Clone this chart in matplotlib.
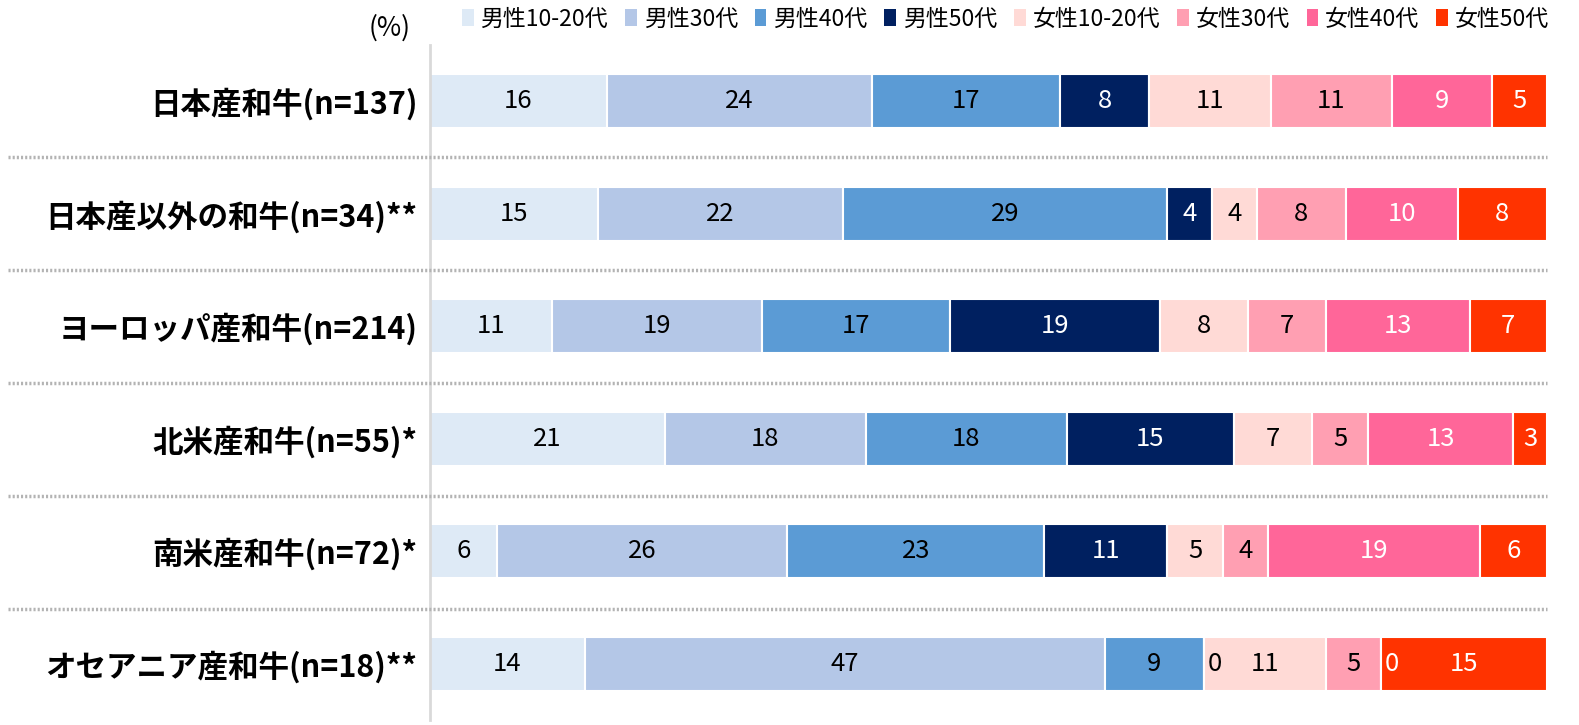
import matplotlib
matplotlib.use('Agg')
from matplotlib import pyplot as plt
from matplotlib.patches import Patch
from matplotlib.lines import Line2D
import numpy as np

plt.rcParams['font.family'] = ['Noto Sans CJK JP', 'DejaVu Sans']

# categories (top to bottom)
categories = ['日本産和牛(n=137)', '日本産以外の和牛(n=34)**', 'ヨーロッパ産和牛(n=214)',
              '北米産和牛(n=55)*', '南米産和牛(n=72)*', 'オセアニア産和牛(n=18)**']
series = ['男性10-20代', '男性30代', '男性40代', '男性50代',
          '女性10-20代', '女性30代', '女性40代', '女性50代']

# values per series, one entry per category (%)
m_10_20 = [16, 15, 11, 21, 6, 14]
m_30 = [24, 22, 19, 18, 26, 47]
m_40 = [17, 29, 17, 18, 23, 9]
m_50 = [8, 4, 19, 15, 11, 0]
f_10_20 = [11, 4, 8, 7, 5, 11]
f_30 = [11, 8, 7, 5, 4, 5]
f_40 = [9, 10, 13, 13, 19, 0]
f_50 = [5, 8, 7, 3, 6, 15]

colors = ['#DEEAF6', '#B4C7E7', '#5B9BD5', '#002060',
          '#FFDAD6', '#FF9FB2', '#FF6699', '#FF3300']
text_colors = ['black', 'black', 'black', 'white',
               'black', 'black', 'white', 'white']

data = np.array([m_10_20, m_30, m_40, m_50, f_10_20, f_30, f_40, f_50], dtype=float)
row_sum = data.sum(axis=0)
widths = data / row_sum * 100  # bars fill the full width (values are rounded)

fig = plt.figure(figsize=(15.79, 7.25), dpi=100)
ax = fig.add_axes([430/1579, 5/725, (1547-430)/1579, (720-45)/725])

y = np.arange(len(categories))
left = np.zeros(len(categories))
for i, name in enumerate(series):
    ax.barh(y, widths[i], left=left, height=0.48, color=colors[i],
            edgecolor='white', linewidth=1.5, label=name)
    for j in range(len(categories)):
        val = int(data[i, j])
        if val == 0:
            # zero labels sit on the boundary, coloured like the next segment's labels
            tc = text_colors[i + 1] if i + 1 < len(series) else text_colors[i]
            xpos = left[j] + 1.0
        else:
            tc = text_colors[i]
            xpos = left[j] + widths[i, j] / 2
        ax.text(xpos, y[j], str(val), ha='center', va='center',
                fontsize=18.5, color=tc)
    left += widths[i]

ax.set_xlim(0, 100)
ax.set_ylim(len(categories) - 0.5, -0.5)
ax.set_yticks(y)
ax.set_yticklabels(categories, fontsize=22, fontweight='bold')
ax.tick_params(axis='y', length=0, pad=9)
ax.set_xticks([])
for s in ['top', 'right', 'bottom']:
    ax.spines[s].set_visible(False)
ax.spines['left'].set_color('#D9D9D9')
ax.spines['left'].set_linewidth(2)

# dotted separators between categories
for k in range(1, len(categories)):
    yy = 1 - (101 + (k - 0.5) * 112.8) / 725
    fig.add_artist(Line2D([8/1579, 1547/1579], [yy, yy], transform=fig.transFigure,
                          color='#B3B3B3', linestyle=(0, (0.6, 0.6)), linewidth=2.5))

handles = [Patch(facecolor=c, edgecolor='none') for c in colors]
fig.legend(handles, series, loc='upper right', bbox_to_anchor=(0.994, 1.018), ncol=8,
           frameon=False, fontsize=16.5, handlelength=0.5, handleheight=0.75,
           handletextpad=0.3, columnspacing=0.75)
fig.text(390/1579, 1 - 28/725, '(%)', ha='center', va='center', fontsize=19)

plt.savefig('out.png', dpi=100)
